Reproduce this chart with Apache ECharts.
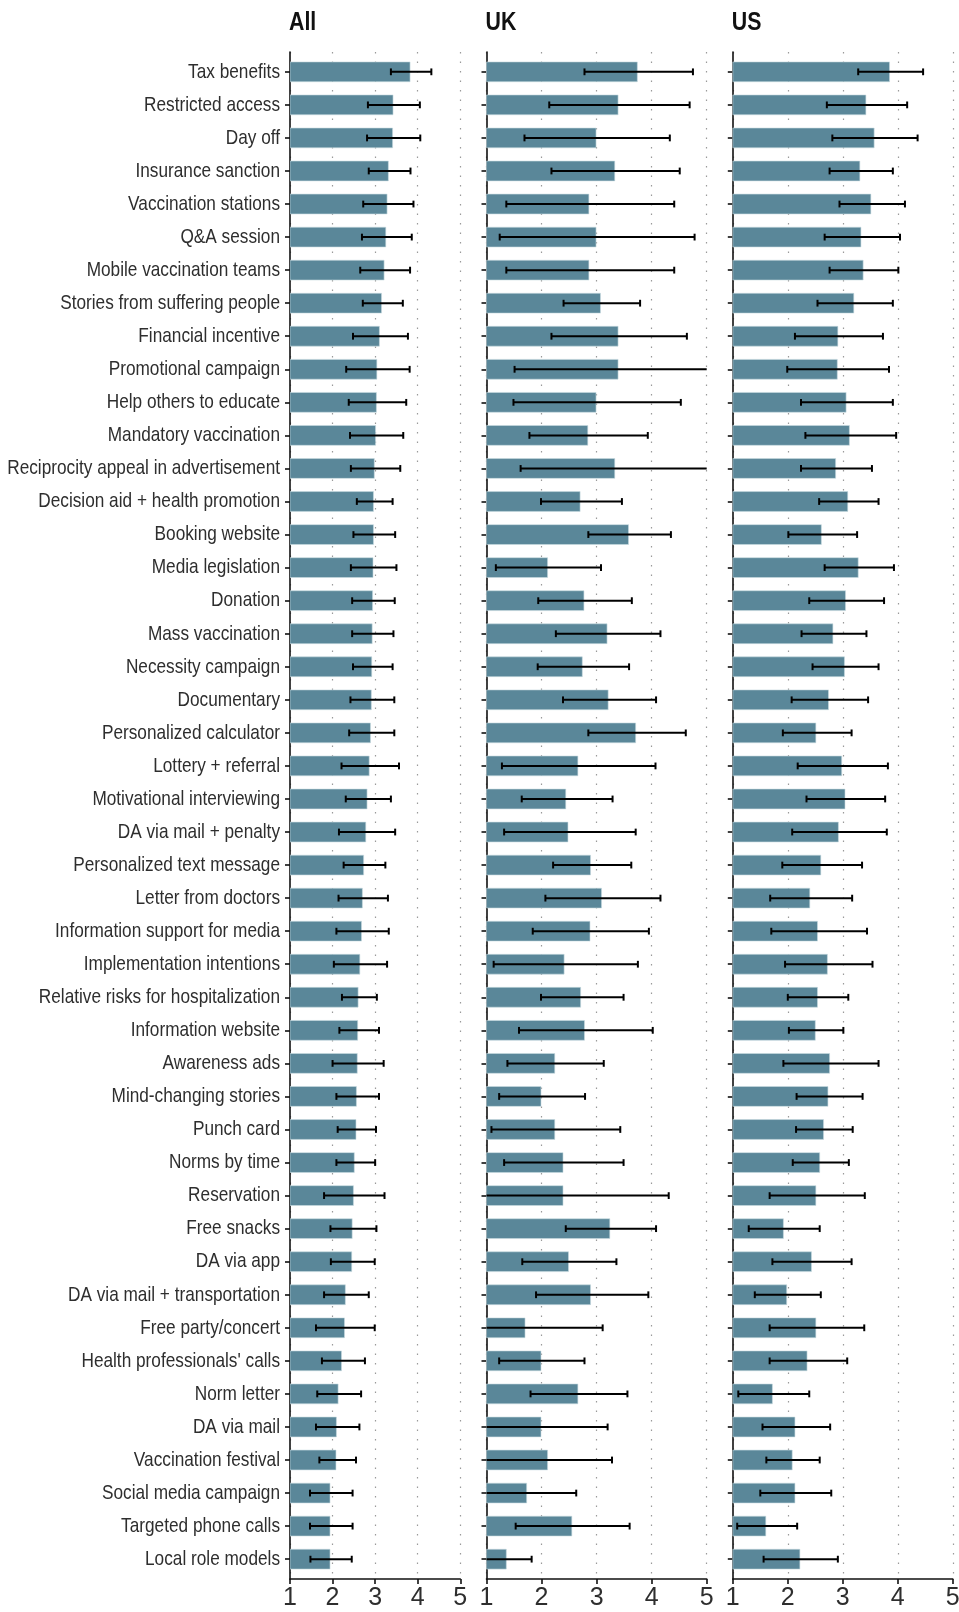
<!DOCTYPE html>
<html>
<head>
<meta charset="utf-8">
<title>Acceptance of vaccination interventions</title>
<script src="https://cdn.jsdelivr.net/npm/echarts@6/dist/echarts.min.js"></script>
<style>
  html, body { margin: 0; padding: 0; background: #ffffff; }
  #chart { width: 959px; height: 1612px; }
</style>
</head>
<body>
<div id="chart"></div>
<script>
// Interventions, top to bottom
const categories = [
  "Tax benefits", "Restricted access", "Day off", "Insurance sanction",
  "Vaccination stations", "Q&A session", "Mobile vaccination teams",
  "Stories from suffering people", "Financial incentive", "Promotional campaign",
  "Help others to educate", "Mandatory vaccination",
  "Reciprocity appeal in advertisement", "Decision aid + health promotion",
  "Booking website", "Media legislation", "Donation", "Mass vaccination",
  "Necessity campaign", "Documentary", "Personalized calculator",
  "Lottery + referral", "Motivational interviewing", "DA via mail + penalty",
  "Personalized text message", "Letter from doctors",
  "Information support for media", "Implementation intentions",
  "Relative risks for hospitalization", "Information website", "Awareness ads",
  "Mind-changing stories", "Punch card", "Norms by time", "Reservation",
  "Free snacks", "DA via app", "DA via mail + transportation",
  "Free party/concert", "Health professionals' calls", "Norm letter",
  "DA via mail", "Vaccination festival", "Social media campaign",
  "Targeted phone calls", "Local role models"
];

const panelTitles = ["All", "UK", "US"];
const xTicks = [1, 2, 3, 4, 5];

// Mean rating and interval bounds per intervention
const allMean = [3.82, 3.42, 3.41, 3.31, 3.28, 3.25, 3.21, 3.15, 3.10, 3.04,
  3.03, 3.01, 2.98, 2.96, 2.96, 2.95, 2.94, 2.93, 2.92, 2.91,
  2.89, 2.86, 2.81, 2.78, 2.73, 2.70, 2.68, 2.64, 2.60, 2.59,
  2.58, 2.56, 2.55, 2.51, 2.49, 2.46, 2.45, 2.30, 2.28, 2.21,
  2.13, 2.09, 2.08, 1.94, 1.94, 1.94];
const allLo = [3.37, 2.83, 2.81, 2.85, 2.72, 2.69, 2.65, 2.71, 2.48, 2.32,
  2.38, 2.41, 2.43, 2.57, 2.49, 2.43, 2.46, 2.46, 2.48, 2.42,
  2.39, 2.21, 2.31, 2.15, 2.26, 2.14, 2.09, 2.03, 2.22, 2.16,
  2.00, 2.09, 2.12, 2.09, 1.80, 1.95, 1.96, 1.80, 1.61, 1.75,
  1.64, 1.61, 1.69, 1.47, 1.47, 1.48];
const allHi = [4.32, 4.05, 4.06, 3.83, 3.90, 3.86, 3.82, 3.65, 3.77, 3.81,
  3.73, 3.66, 3.59, 3.41, 3.47, 3.50, 3.46, 3.43, 3.41, 3.45,
  3.45, 3.56, 3.37, 3.47, 3.24, 3.30, 3.32, 3.28, 3.04, 3.09,
  3.20, 3.09, 3.02, 3.00, 3.22, 3.03, 2.99, 2.85, 2.99, 2.76,
  2.67, 2.63, 2.55, 2.47, 2.47, 2.45];

const ukMean = [3.74, 3.39, 2.99, 3.33, 2.86, 2.99, 2.86, 3.07, 3.39, 3.39,
  2.99, 2.84, 3.33, 2.70, 3.58, 2.11, 2.77, 3.19, 2.74, 3.21,
  3.71, 2.66, 2.44, 2.48, 2.89, 3.09, 2.88, 2.41, 2.71, 2.78,
  2.24, 1.99, 2.24, 2.39, 2.39, 3.24, 2.49, 2.89, 1.70, 1.99,
  2.66, 1.99, 2.11, 1.73, 2.55, 1.36];
const ukLo = [2.78, 2.14, 1.69, 2.18, 1.36, 1.24, 1.36, 2.40, 2.18, 1.51,
  1.49, 1.78, 1.62, 1.99, 2.85, 1.17, 1.94, 2.26, 1.93, 2.39,
  2.85, 1.28, 1.64, 1.32, 2.21, 2.07, 1.84, 1.13, 1.99, 1.59,
  1.38, 1.23, 1.09, 1.32, 0.47, 2.44, 1.65, 1.90, 0.29, 1.23,
  1.80, 0.78, 0.94, 0.83, 1.53, 0.90];
const ukHi = [4.75, 4.69, 4.33, 4.51, 4.41, 4.78, 4.41, 3.79, 4.64, 5.27,
  4.53, 3.93, 5.04, 3.46, 4.35, 3.08, 3.64, 4.16, 3.59, 4.08,
  4.62, 4.07, 3.29, 3.71, 3.63, 4.16, 3.95, 3.75, 3.49, 4.02,
  3.13, 2.79, 3.43, 3.49, 4.31, 4.08, 3.36, 3.94, 3.11, 2.78,
  3.56, 3.20, 3.28, 2.63, 3.60, 1.82];

const usMean = [3.85, 3.42, 3.57, 3.31, 3.51, 3.33, 3.37, 3.20, 2.91, 2.90,
  3.06, 3.12, 2.87, 3.09, 2.61, 3.28, 3.05, 2.82, 3.03, 2.74,
  2.51, 2.98, 3.04, 2.92, 2.60, 2.40, 2.54, 2.72, 2.54, 2.50,
  2.76, 2.73, 2.65, 2.58, 2.51, 1.92, 2.43, 1.98, 2.51, 2.35,
  1.72, 2.13, 2.08, 2.13, 1.60, 2.22];
const usLo = [3.28, 2.71, 2.81, 2.76, 2.94, 2.67, 2.76, 2.54, 2.13, 1.99,
  2.24, 2.32, 2.24, 2.57, 2.01, 2.67, 2.39, 2.25, 2.45, 2.07,
  1.91, 2.18, 2.34, 2.08, 1.90, 1.68, 1.70, 1.95, 2.00, 2.02,
  1.92, 2.16, 2.15, 2.09, 1.67, 1.29, 1.72, 1.40, 1.67, 1.67,
  1.10, 1.54, 1.61, 1.50, 1.08, 1.56];
const usHi = [4.46, 4.17, 4.36, 3.91, 4.13, 4.04, 4.01, 3.91, 3.73, 3.84,
  3.91, 3.97, 3.53, 3.65, 3.26, 3.93, 3.75, 3.43, 3.65, 3.46,
  3.16, 3.82, 3.77, 3.80, 3.35, 3.17, 3.44, 3.54, 3.10, 3.01,
  3.65, 3.36, 3.18, 3.11, 3.40, 2.58, 3.16, 2.60, 3.39, 3.08,
  2.39, 2.77, 2.58, 2.79, 2.17, 2.91];

const X_MIN = 1, X_MAX = 5;
const BAR_WIDTH = 0.6;
const BAR_COLOR = '#5a8799';
const FONT = '"Liberation Sans", Arial, sans-serif';
const NARROW_SCALE = 0.82;   // condensed look for label text
const TEXT_COLOR = '#2e2e2e';

const panels = [
  { mean: allMean, lo: allLo, hi: allHi, left: 290, width: 170.3, labels: true },
  { mean: ukMean, lo: ukLo, hi: ukHi, left: 486.5, width: 220.2, labels: false },
  { mean: usMean, lo: usLo, hi: usHi, left: 732.8, width: 220.0, labels: false }
];

const rowIdx = categories.map((_, i) => i);

function renderBar(params, api) {
  const v = Math.min(api.value(0), X_MAX);
  const i = api.value(1);
  const a = api.coord([X_MIN, i]);
  const b = api.coord([v, i]);
  const h = api.size([0, BAR_WIDTH])[1];
  return {
    type: 'rect',
    shape: { x: a[0], y: a[1] - h / 2, width: b[0] - a[0], height: h },
    style: { fill: BAR_COLOR, stroke: '#c9dbe1', lineWidth: 0.6 }
  };
}

function renderError(params, api) {
  const lo = api.value(0), hi = api.value(1), i = api.value(2);
  const l = Math.max(lo, X_MIN), r = Math.min(hi, X_MAX);
  const p0 = api.coord([l, i]);
  const p1 = api.coord([r, i]);
  const cap = 3.4;
  const st = { stroke: '#000000', lineWidth: 2 };
  const children = [
    { type: 'line', shape: { x1: p0[0], y1: p0[1], x2: p1[0], y2: p1[1] }, style: st }
  ];
  if (lo >= X_MIN) {
    children.push({ type: 'line', shape: { x1: p0[0], y1: p0[1] - cap, x2: p0[0], y2: p0[1] + cap }, style: st });
  }
  if (hi <= X_MAX) {
    children.push({ type: 'line', shape: { x1: p1[0], y1: p1[1] - cap, x2: p1[0], y2: p1[1] + cap }, style: st });
  }
  return { type: 'group', children: children };
}

// Category names, right-aligned next to the first panel's axis
function renderCategoryLabel(params, api) {
  const i = api.value(1);
  const p = api.coord([X_MIN, i]);
  return {
    type: 'text',
    x: p[0] - 10, y: p[1],
    scaleX: NARROW_SCALE, scaleY: 1,
    style: {
      text: categories[i], align: 'right', verticalAlign: 'middle',
      font: '21px ' + FONT, fill: TEXT_COLOR
    }
  };
}

const grid = [], xAxis = [], yAxis = [], series = [], graphic = [];

panels.forEach((p, k) => {
  grid.push({ left: p.left, top: 52, width: p.width, height: 1527, outerBoundsMode: 'none', containLabel: false });
  graphic.push({
    type: 'text', left: null, x: p.left - 1, y: 23, scaleX: NARROW_SCALE, scaleY: 1,
    style: {
      text: panelTitles[k], align: 'left', verticalAlign: 'middle',
      font: 'bold 26px ' + FONT, fill: '#111111'
    }
  });
  xAxis.push({
    gridIndex: k, type: 'value', min: X_MIN, max: X_MAX, interval: 1,
    axisLine: { show: true, onZero: false, lineStyle: { color: '#111111', width: 1.6 } },
    axisTick: { show: true, length: 5, lineStyle: { color: '#111111', width: 1.6 } },
    axisLabel: {
      margin: 7, fontFamily: FONT, fontSize: 25, color: TEXT_COLOR,
      customValues: xTicks
    },
    splitLine: { show: true, lineStyle: { color: '#9a9a9a', width: 1.2, type: [1.5, 8] } }
  });
  yAxis.push({
    gridIndex: k, type: 'value', inverse: true, min: -0.6, max: categories.length - 0.4,
    axisLine: { show: true, onZero: false, lineStyle: { color: '#111111', width: 1.6 } },
    axisTick: { show: true, length: 5, customValues: rowIdx, lineStyle: { color: '#111111', width: 1.6 } },
    axisLabel: { show: false },
    splitLine: { show: false }
  });
  series.push({
    type: 'custom', xAxisIndex: k, yAxisIndex: k, renderItem: renderBar,
    encode: { x: 0, y: 1 }, clip: true, silent: true,
    data: p.mean.map((v, i) => [v, i])
  });
  series.push({
    type: 'custom', xAxisIndex: k, yAxisIndex: k, renderItem: renderError,
    encode: { x: [0, 1], y: 2 }, clip: true, silent: true, z: 3,
    data: p.lo.map((v, i) => [v, p.hi[i], i])
  });
  if (p.labels) {
    series.push({
      type: 'custom', xAxisIndex: k, yAxisIndex: k, renderItem: renderCategoryLabel,
      encode: { x: 0, y: 1 }, clip: false, silent: true,
      data: rowIdx.map((i) => [X_MIN, i])
    });
  }
});

const chart = echarts.init(document.getElementById('chart'), null, { renderer: 'canvas' });
chart.setOption({
  backgroundColor: '#ffffff',
  animation: false,
  grid: grid,
  xAxis: xAxis,
  yAxis: yAxis,
  series: series,
  graphic: graphic
});
</script>
</body>
</html>
